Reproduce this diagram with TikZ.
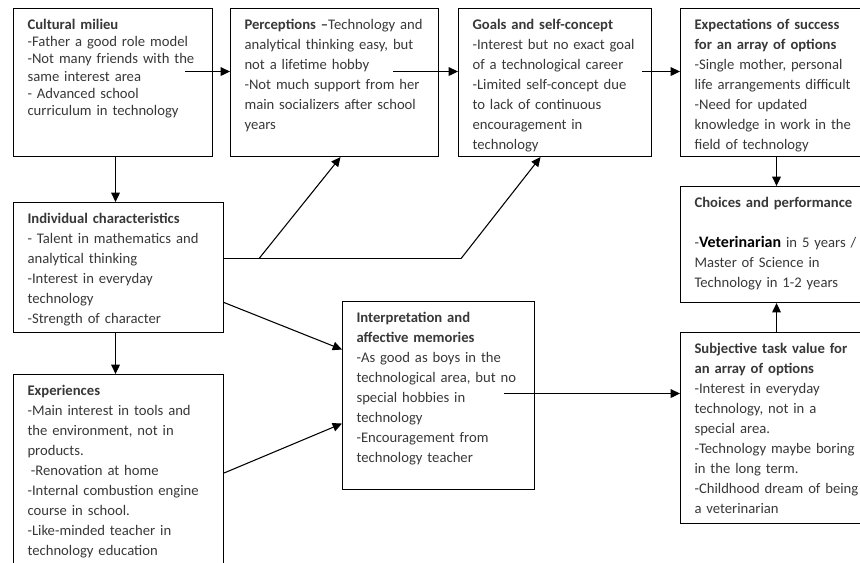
\documentclass[tikz,border=0pt]{standalone}
\usepackage{fontspec}
\setmainfont{Carlito}
\usetikzlibrary{arrows.meta,positioning}

\begin{document}
\begin{tikzpicture}[x=0.75pt,y=-0.75pt,
    stage/.style={draw, rectangle, anchor=north west, align=left, line width=0.8pt,
      inner xsep=10.5pt, inner ysep=6pt, text height=9.5pt, text=black!78,
      font=\fontsize{11}{15}\selectfont},
    flow/.style={-{Triangle[length=7pt,width=6.5pt]}, line width=0.8pt}]
  \useasboundingbox (0,0) rectangle (860,563);

  % top row
  \node[stage, text width=128.25pt, text depth=89.5pt, font=\fontsize{11}{13}\selectfont] (milieu) at (13,8)
    {\textbf{Cultural milieu}\\-Father a good role model\\-Not many friends with the\\same interest area\\- Advanced school\\curriculum in technology};
  \node[stage, text width=135pt, text depth=89.5pt] (percept) at (230,8)
    {\textbf{Perceptions –}Technology and\\analytical thinking easy, but\\not a lifetime hobby\\-Not much support from her\\main socializers after school\\years};
  \node[stage, text width=123.75pt, text depth=89.5pt] (goals) at (458,8)
    {\textbf{Goals and self-concept}\\-Interest but no exact goal\\of a technological career\\-Limited self-concept due\\to lack of continuous\\encouragement in\\technology};
  \node[stage, text width=123pt, text depth=89.5pt] (expect) at (680,8)
    {\textbf{Expectations of success}\\\textbf{for an array of options}\\-Single mother, personal\\life arrangements difficult\\-Need for updated\\knowledge in work in the\\field of technology};

  % right column
  \node[stage, text width=123pt, text depth=65.5pt] (choices) at (680,186)
    {\textbf{Choices and performance}\\[15pt]\mbox{-{\fontsize{12}{15}\selectfont\bfseries\color{black}Veterinarian} in 5 years /}\\Master of Science in\\Technology in 1-2 years};
  \node[stage, text width=123pt, text depth=121.75pt] (subj) at (680,332)
    {\textbf{Subjective task value for}\\\textbf{an array of options}\\-Interest in everyday\\technology, not in a\\special area.\\-Technology maybe boring\\in the long term.\\-Childhood dream of being\\a veterinarian};

  % left column
  \node[stage, text width=136.5pt, text depth=76pt] (indiv) at (13,202)
    {\textbf{Individual characteristics}\\- Talent in mathematics and\\analytical thinking\\-Interest in everyday\\technology\\-Strength of character};
  \node[stage, text width=136.5pt, text depth=128.5pt] (exper) at (13,374)
    {\textbf{Experiences}\\-Main interest in tools and\\the environment, not in\\products.\\\hspace{2.5pt}-Renovation at home\\-Internal combustion engine\\course in school.\\-Like-minded teacher in\\technology education};

  % middle
  \node[stage, text width=123pt, text depth=119.5pt] (interp) at (342,301)
    {\textbf{Interpretation and}\\\textbf{affective memories}\\-As good as boys in the\\technological area, but no\\special hobbies in\\technology\\-Encouragement from\\technology teacher};

  % arrows
  \draw[flow] ([shift={(-28,-11)}]milieu.east) coordinate (a1) -- (a1 -| percept.west);
  \draw[flow] ([shift={(-46,-11)}]percept.east) coordinate (a2) -- (a2 -| goals.west);
  \draw[flow] ([shift={(-10,-11)}]goals.east) coordinate (a3) -- (a3 -| expect.west);
  \draw[flow] ([shift={(2.5,0)}]milieu.south) coordinate (a4) -- (a4 |- indiv.north);
  \draw[flow] ([shift={(-3,0)}]indiv.south) coordinate (a5) -- (a5 |- exper.north);
  \draw[flow] (expect.south) -- (choices.north);
  \draw[flow] (subj.north) -- (choices.south);

  \draw[line width=0.8pt] ([shift={(0,-9)}]indiv.east) coordinate (b0) -- ++(35,0) coordinate (b1) -- ++(202,0) coordinate (b2);
  \draw[flow] (b1) -- ([shift={(6,0)}]percept.south);
  \draw[flow] (b2) -- ([shift={(-14.5,0)}]goals.south);
  \draw[flow] ([shift={(0,35)}]indiv.east) -- ([shift={(0,-46)}]interp.west);
  \draw[flow] ([shift={(0,99)}]exper.north east) -- ([shift={(0,28)}]interp.west);
  \draw[flow] ([shift={(-31,-2)}]interp.east) coordinate (c1) -- (c1 -| subj.west);
\end{tikzpicture}
\end{document}
